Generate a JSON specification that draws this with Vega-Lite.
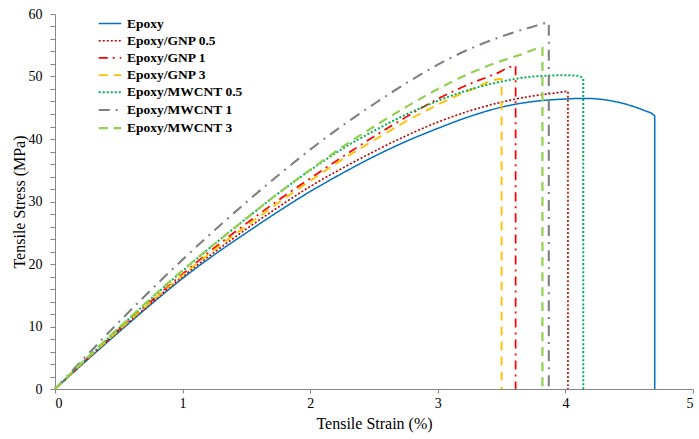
{
  "$schema": "https://vega.github.io/schema/vega-lite/v6.json",
  "width": 638,
  "height": 375,
  "autosize": {"type": "none"},
  "padding": {"left": 55, "top": 14, "right": 6, "bottom": 50},
  "background": "white",
  "config": {
    "view": {"stroke": null},
    "font": "Liberation Serif",
    "legend": {
      "title": null,
      "orient": "none",
      "legendX": 46,
      "legendY": 1,
      "padding": 0,
      "symbolType": "M-1.5,0L1.5,0",
      "symbolSize": 225,
      "symbolStrokeWidth": 2.5,
      "labelFont": "Liberation Serif",
      "labelFontSize": 13.5,
      "labelFontWeight": "bold",
      "labelColor": "#000000",
      "labelOffset": 8,
      "rowPadding": 2.2
    }
  },
  "data": {
    "values": [
      {"s": "Epoxy", "i": 0, "x": 0, "y": 0},
      {"s": "Epoxy", "i": 1, "x": 0.25, "y": 4.6},
      {"s": "Epoxy", "i": 2, "x": 0.5, "y": 9.1},
      {"s": "Epoxy", "i": 3, "x": 0.75, "y": 13.5},
      {"s": "Epoxy", "i": 4, "x": 1, "y": 17.7},
      {"s": "Epoxy", "i": 5, "x": 1.25, "y": 21.5},
      {"s": "Epoxy", "i": 6, "x": 1.5, "y": 25.0},
      {"s": "Epoxy", "i": 7, "x": 1.75, "y": 28.4},
      {"s": "Epoxy", "i": 8, "x": 2, "y": 31.6},
      {"s": "Epoxy", "i": 9, "x": 2.25, "y": 34.5},
      {"s": "Epoxy", "i": 10, "x": 2.5, "y": 37.2},
      {"s": "Epoxy", "i": 11, "x": 2.75, "y": 39.6},
      {"s": "Epoxy", "i": 12, "x": 3, "y": 41.7},
      {"s": "Epoxy", "i": 13, "x": 3.25, "y": 43.6},
      {"s": "Epoxy", "i": 14, "x": 3.5, "y": 45.1},
      {"s": "Epoxy", "i": 15, "x": 3.75, "y": 46.0},
      {"s": "Epoxy", "i": 16, "x": 4.0, "y": 46.4},
      {"s": "Epoxy", "i": 17, "x": 4.15, "y": 46.5},
      {"s": "Epoxy", "i": 18, "x": 4.3, "y": 46.3},
      {"s": "Epoxy", "i": 19, "x": 4.45, "y": 45.7},
      {"s": "Epoxy", "i": 20, "x": 4.6, "y": 44.7},
      {"s": "Epoxy", "i": 21, "x": 4.7, "y": 43.7},
      {"s": "Epoxy", "i": 22, "x": 4.7, "y": 0},

      {"s": "Epoxy/GNP 0.5", "i": 0, "x": 0, "y": 0},
      {"s": "Epoxy/GNP 0.5", "i": 1, "x": 0.25, "y": 4.7},
      {"s": "Epoxy/GNP 0.5", "i": 2, "x": 0.5, "y": 9.3},
      {"s": "Epoxy/GNP 0.5", "i": 3, "x": 0.75, "y": 13.7},
      {"s": "Epoxy/GNP 0.5", "i": 4, "x": 1, "y": 18.0},
      {"s": "Epoxy/GNP 0.5", "i": 5, "x": 1.25, "y": 21.9},
      {"s": "Epoxy/GNP 0.5", "i": 6, "x": 1.5, "y": 25.6},
      {"s": "Epoxy/GNP 0.5", "i": 7, "x": 1.75, "y": 29.1},
      {"s": "Epoxy/GNP 0.5", "i": 8, "x": 2, "y": 32.4},
      {"s": "Epoxy/GNP 0.5", "i": 9, "x": 2.25, "y": 35.3},
      {"s": "Epoxy/GNP 0.5", "i": 10, "x": 2.5, "y": 38.0},
      {"s": "Epoxy/GNP 0.5", "i": 11, "x": 2.75, "y": 40.5},
      {"s": "Epoxy/GNP 0.5", "i": 12, "x": 3, "y": 42.7},
      {"s": "Epoxy/GNP 0.5", "i": 13, "x": 3.25, "y": 44.5},
      {"s": "Epoxy/GNP 0.5", "i": 14, "x": 3.5, "y": 45.9},
      {"s": "Epoxy/GNP 0.5", "i": 15, "x": 3.75, "y": 46.9},
      {"s": "Epoxy/GNP 0.5", "i": 16, "x": 3.9, "y": 47.3},
      {"s": "Epoxy/GNP 0.5", "i": 17, "x": 4.02, "y": 47.6},
      {"s": "Epoxy/GNP 0.5", "i": 18, "x": 4.02, "y": 0},

      {"s": "Epoxy/GNP 1", "i": 0, "x": 0, "y": 0},
      {"s": "Epoxy/GNP 1", "i": 1, "x": 0.25, "y": 4.8},
      {"s": "Epoxy/GNP 1", "i": 2, "x": 0.5, "y": 9.5},
      {"s": "Epoxy/GNP 1", "i": 3, "x": 0.75, "y": 14.0},
      {"s": "Epoxy/GNP 1", "i": 4, "x": 1, "y": 18.4},
      {"s": "Epoxy/GNP 1", "i": 5, "x": 1.25, "y": 22.6},
      {"s": "Epoxy/GNP 1", "i": 6, "x": 1.5, "y": 26.5},
      {"s": "Epoxy/GNP 1", "i": 7, "x": 1.75, "y": 30.2},
      {"s": "Epoxy/GNP 1", "i": 8, "x": 2, "y": 33.7},
      {"s": "Epoxy/GNP 1", "i": 9, "x": 2.25, "y": 37.1},
      {"s": "Epoxy/GNP 1", "i": 10, "x": 2.5, "y": 40.4},
      {"s": "Epoxy/GNP 1", "i": 11, "x": 2.75, "y": 43.5},
      {"s": "Epoxy/GNP 1", "i": 12, "x": 3, "y": 46.4},
      {"s": "Epoxy/GNP 1", "i": 13, "x": 3.25, "y": 48.8},
      {"s": "Epoxy/GNP 1", "i": 14, "x": 3.45, "y": 50.4},
      {"s": "Epoxy/GNP 1", "i": 15, "x": 3.61, "y": 51.7},
      {"s": "Epoxy/GNP 1", "i": 16, "x": 3.61, "y": 0},

      {"s": "Epoxy/GNP 3", "i": 0, "x": 0, "y": 0},
      {"s": "Epoxy/GNP 3", "i": 1, "x": 0.25, "y": 4.8},
      {"s": "Epoxy/GNP 3", "i": 2, "x": 0.5, "y": 9.4},
      {"s": "Epoxy/GNP 3", "i": 3, "x": 0.75, "y": 13.9},
      {"s": "Epoxy/GNP 3", "i": 4, "x": 1, "y": 18.2},
      {"s": "Epoxy/GNP 3", "i": 5, "x": 1.25, "y": 22.3},
      {"s": "Epoxy/GNP 3", "i": 6, "x": 1.5, "y": 26.1},
      {"s": "Epoxy/GNP 3", "i": 7, "x": 1.75, "y": 29.8},
      {"s": "Epoxy/GNP 3", "i": 8, "x": 2, "y": 33.3},
      {"s": "Epoxy/GNP 3", "i": 9, "x": 2.25, "y": 36.7},
      {"s": "Epoxy/GNP 3", "i": 10, "x": 2.5, "y": 39.8},
      {"s": "Epoxy/GNP 3", "i": 11, "x": 2.75, "y": 42.8},
      {"s": "Epoxy/GNP 3", "i": 12, "x": 3, "y": 45.5},
      {"s": "Epoxy/GNP 3", "i": 13, "x": 3.25, "y": 47.8},
      {"s": "Epoxy/GNP 3", "i": 14, "x": 3.5, "y": 49.6},
      {"s": "Epoxy/GNP 3", "i": 15, "x": 3.5, "y": 0},

      {"s": "Epoxy/MWCNT 0.5", "i": 0, "x": 0, "y": 0},
      {"s": "Epoxy/MWCNT 0.5", "i": 1, "x": 0.25, "y": 4.9},
      {"s": "Epoxy/MWCNT 0.5", "i": 2, "x": 0.5, "y": 9.7},
      {"s": "Epoxy/MWCNT 0.5", "i": 3, "x": 0.75, "y": 14.4},
      {"s": "Epoxy/MWCNT 0.5", "i": 4, "x": 1, "y": 18.9},
      {"s": "Epoxy/MWCNT 0.5", "i": 5, "x": 1.25, "y": 23.2},
      {"s": "Epoxy/MWCNT 0.5", "i": 6, "x": 1.5, "y": 27.3},
      {"s": "Epoxy/MWCNT 0.5", "i": 7, "x": 1.75, "y": 31.3},
      {"s": "Epoxy/MWCNT 0.5", "i": 8, "x": 2, "y": 35.0},
      {"s": "Epoxy/MWCNT 0.5", "i": 9, "x": 2.25, "y": 38.4},
      {"s": "Epoxy/MWCNT 0.5", "i": 10, "x": 2.5, "y": 41.3},
      {"s": "Epoxy/MWCNT 0.5", "i": 11, "x": 2.75, "y": 43.9},
      {"s": "Epoxy/MWCNT 0.5", "i": 12, "x": 3, "y": 46.1},
      {"s": "Epoxy/MWCNT 0.5", "i": 13, "x": 3.25, "y": 47.9},
      {"s": "Epoxy/MWCNT 0.5", "i": 14, "x": 3.5, "y": 49.2},
      {"s": "Epoxy/MWCNT 0.5", "i": 15, "x": 3.75, "y": 50.0},
      {"s": "Epoxy/MWCNT 0.5", "i": 16, "x": 4.0, "y": 50.2},
      {"s": "Epoxy/MWCNT 0.5", "i": 17, "x": 4.1, "y": 50.1},
      {"s": "Epoxy/MWCNT 0.5", "i": 18, "x": 4.14, "y": 49.6},
      {"s": "Epoxy/MWCNT 0.5", "i": 19, "x": 4.14, "y": 0},

      {"s": "Epoxy/MWCNT 1", "i": 0, "x": 0, "y": 0},
      {"s": "Epoxy/MWCNT 1", "i": 1, "x": 0.25, "y": 5.4},
      {"s": "Epoxy/MWCNT 1", "i": 2, "x": 0.5, "y": 10.7},
      {"s": "Epoxy/MWCNT 1", "i": 3, "x": 0.75, "y": 15.8},
      {"s": "Epoxy/MWCNT 1", "i": 4, "x": 1, "y": 20.7},
      {"s": "Epoxy/MWCNT 1", "i": 5, "x": 1.25, "y": 25.4},
      {"s": "Epoxy/MWCNT 1", "i": 6, "x": 1.5, "y": 29.9},
      {"s": "Epoxy/MWCNT 1", "i": 7, "x": 1.75, "y": 34.2},
      {"s": "Epoxy/MWCNT 1", "i": 8, "x": 2, "y": 38.3},
      {"s": "Epoxy/MWCNT 1", "i": 9, "x": 2.25, "y": 42.1},
      {"s": "Epoxy/MWCNT 1", "i": 10, "x": 2.5, "y": 45.6},
      {"s": "Epoxy/MWCNT 1", "i": 11, "x": 2.75, "y": 48.9},
      {"s": "Epoxy/MWCNT 1", "i": 12, "x": 3, "y": 51.9},
      {"s": "Epoxy/MWCNT 1", "i": 13, "x": 3.25, "y": 54.4},
      {"s": "Epoxy/MWCNT 1", "i": 14, "x": 3.5, "y": 56.4},
      {"s": "Epoxy/MWCNT 1", "i": 15, "x": 3.75, "y": 58.0},
      {"s": "Epoxy/MWCNT 1", "i": 16, "x": 3.87, "y": 58.6},
      {"s": "Epoxy/MWCNT 1", "i": 17, "x": 3.87, "y": 0},

      {"s": "Epoxy/MWCNT 3", "i": 0, "x": 0, "y": 0},
      {"s": "Epoxy/MWCNT 3", "i": 1, "x": 0.25, "y": 5.0},
      {"s": "Epoxy/MWCNT 3", "i": 2, "x": 0.5, "y": 9.8},
      {"s": "Epoxy/MWCNT 3", "i": 3, "x": 0.75, "y": 14.5},
      {"s": "Epoxy/MWCNT 3", "i": 4, "x": 1, "y": 19.0},
      {"s": "Epoxy/MWCNT 3", "i": 5, "x": 1.25, "y": 23.2},
      {"s": "Epoxy/MWCNT 3", "i": 6, "x": 1.5, "y": 27.3},
      {"s": "Epoxy/MWCNT 3", "i": 7, "x": 1.75, "y": 31.3},
      {"s": "Epoxy/MWCNT 3", "i": 8, "x": 2, "y": 35.1},
      {"s": "Epoxy/MWCNT 3", "i": 9, "x": 2.25, "y": 38.7},
      {"s": "Epoxy/MWCNT 3", "i": 10, "x": 2.5, "y": 42.0},
      {"s": "Epoxy/MWCNT 3", "i": 11, "x": 2.75, "y": 45.1},
      {"s": "Epoxy/MWCNT 3", "i": 12, "x": 3, "y": 48.0},
      {"s": "Epoxy/MWCNT 3", "i": 13, "x": 3.25, "y": 50.5},
      {"s": "Epoxy/MWCNT 3", "i": 14, "x": 3.5, "y": 52.5},
      {"s": "Epoxy/MWCNT 3", "i": 15, "x": 3.65, "y": 53.5},
      {"s": "Epoxy/MWCNT 3", "i": 16, "x": 3.82, "y": 54.6},
      {"s": "Epoxy/MWCNT 3", "i": 17, "x": 3.82, "y": 0}
    ]
  },
  "mark": {"type": "line", "interpolate": "monotone", "strokeCap": "butt", "strokeJoin": "miter"},
  "encoding": {
    "x": {
      "field": "x", "type": "quantitative",
      "scale": {"domain": [0, 5], "nice": false, "zero": false},
      "axis": {
        "title": "Tensile Strain (%)",
        "values": [0, 1, 2, 3, 4, 5],
        "format": "d",
        "grid": false,
        "domainColor": "#868686", "tickColor": "#868686",
        "tickSize": 4, "labelPadding": 3,
        "labelFont": "Liberation Serif", "labelFontSize": 14, "labelColor": "#000000",
        "titleFont": "Liberation Serif", "titleFontSize": 16, "titleFontWeight": "normal", "titleColor": "#000000",
        "titlePadding": 5
      }
    },
    "y": {
      "field": "y", "type": "quantitative",
      "scale": {"domain": [0, 60], "nice": false},
      "axis": {
        "title": "Tensile Stress (MPa)",
        "values": [0, 2, 4, 6, 8, 10, 12, 14, 16, 18, 20, 22, 24, 26, 28, 30, 32, 34, 36, 38, 40, 42, 44, 46, 48, 50, 52, 54, 56, 58, 60],
        "labelExpr": "datum.value % 10 === 0 ? datum.label : ''",
        "grid": false,
        "domainColor": "#868686", "tickColor": "#868686",
        "tickSize": 5, "labelPadding": 8,
        "labelFont": "Liberation Serif", "labelFontSize": 14, "labelColor": "#000000",
        "titleFont": "Liberation Serif", "titleFontSize": 16, "titleFontWeight": "normal", "titleColor": "#000000",
        "titleX": -36, "titleY": 187.5, "titleBaseline": "middle", "titleAlign": "center", "titleAngle": -90
      }
    },
    "order": {"field": "i", "type": "quantitative"},
    "color": {
      "field": "s", "type": "nominal",
      "scale": {
        "domain": ["Epoxy", "Epoxy/GNP 0.5", "Epoxy/GNP 1", "Epoxy/GNP 3", "Epoxy/MWCNT 0.5", "Epoxy/MWCNT 1", "Epoxy/MWCNT 3"],
        "range": ["#0070C0", "#C00000", "#FF0000", "#FFC000", "#00B050", "#808080", "#92D050"]
      },
      "legend": {}
    },
    "strokeDash": {
      "field": "s", "type": "nominal",
      "scale": {
        "domain": ["Epoxy", "Epoxy/GNP 0.5", "Epoxy/GNP 1", "Epoxy/GNP 3", "Epoxy/MWCNT 0.5", "Epoxy/MWCNT 1", "Epoxy/MWCNT 3"],
        "range": [[1, 0], [2, 2], [9, 5, 2, 5], [9, 6], [2, 2], [11, 6, 2, 6], [9, 6]]
      },
      "legend": {}
    },
    "strokeWidth": {
      "field": "s", "type": "nominal",
      "scale": {
        "domain": ["Epoxy", "Epoxy/GNP 0.5", "Epoxy/GNP 1", "Epoxy/GNP 3", "Epoxy/MWCNT 0.5", "Epoxy/MWCNT 1", "Epoxy/MWCNT 3"],
        "range": [1.5, 2.2, 2.5, 2.5, 2.2, 2.5, 2.5]
      },
      "legend": {}
    }
  }
}
